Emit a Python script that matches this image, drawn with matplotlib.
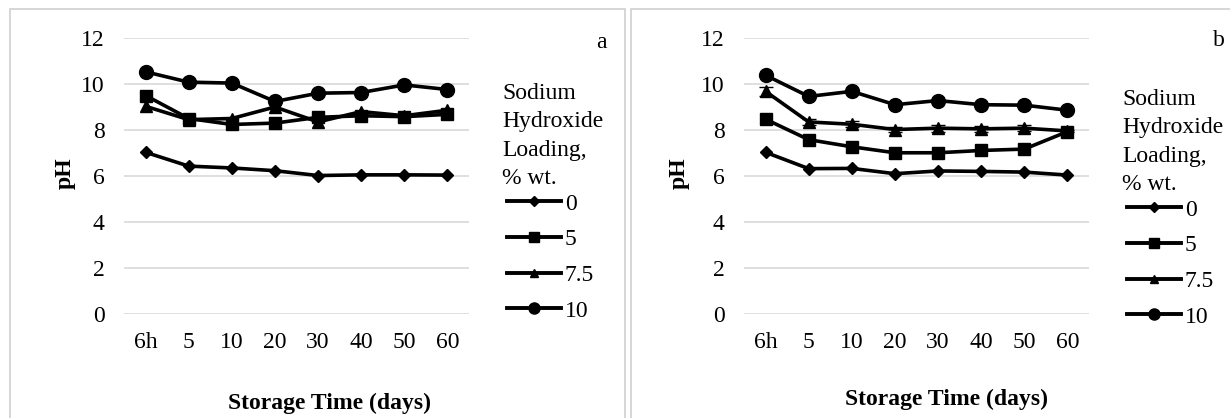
import matplotlib
matplotlib.use("Agg")
import matplotlib.pyplot as plt
from matplotlib.lines import Line2D
from matplotlib.patches import Rectangle

plt.rcParams['font.family'] = ['Liberation Serif', 'DejaVu Serif']

# storage time categories
days = ["6h", "5", "10", "20", "30", "40", "50", "60"]
loadings = ["0", "5", "7.5", "10"]

# panel a - pH per NaOH loading
a_0 = [7.03, 6.43, 6.35, 6.23, 6.02, 6.05, 6.05, 6.04]
a_5 = [9.50, 8.50, 8.24, 8.30, 8.55, 8.62, 8.58, 8.68]
a_75 = [9.03, 8.45, 8.50, 9.00, 8.35, 8.80, 8.62, 8.86]
a_10 = [10.53, 10.08, 10.04, 9.24, 9.60, 9.63, 9.96, 9.76]

# panel b - pH per NaOH loading
b_0 = [7.03, 6.32, 6.33, 6.10, 6.22, 6.20, 6.17, 6.04]
b_5 = [8.47, 7.58, 7.27, 7.01, 7.01, 7.11, 7.17, 7.93]
b_75 = [9.68, 8.35, 8.25, 8.02, 8.08, 8.05, 8.08, 7.96]
b_75_err = [0.2, 0.15, 0.12, 0.12, 0.15, 0.12, 0.12, 0.05]
b_10 = [10.38, 9.46, 9.68, 9.10, 9.28, 9.10, 9.08, 8.86]

markers = ["D", "s", "^", "o"]
msizes = [6, 9, 8, 10]
FS = 17

fig = plt.figure(figsize=(12.3, 4.18), dpi=100)

# light grey frames around each chart
fig.patches.append(Rectangle((10 / 1230, -0.1), 615 / 1230, 1 - 9 / 418 + 0.1,
                             transform=fig.transFigure, fill=False,
                             edgecolor="#d0d0d0", lw=1.2))
fig.patches.append(Rectangle((631 / 1230, -0.1), 0.6, 1 - 9 / 418 + 0.1,
                             transform=fig.transFigure, fill=False,
                             edgecolor="#d0d0d0", lw=1.2))

panels = [
    (124, [a_0, a_5, a_75, a_10], None, "a", 601, 42),
    (744, [b_0, b_5, b_75, b_10], b_75_err, "b", 1219, 40),
]

for left_px, series, err, tag, tag_x, tag_y in panels:
    ax = fig.add_axes([left_px / 1230, 1 - 314 / 418, 345 / 1230, 276 / 418])
    x = list(range(len(days)))
    for i, vals in enumerate(series):
        if err is not None and i == 2:
            ax.errorbar(x, vals, yerr=err, color="black", lw=2.6, marker=markers[i],
                        ms=msizes[i], elinewidth=1, capsize=5, zorder=3)
        else:
            ax.plot(x, vals, color="black", lw=2.6, marker=markers[i],
                    ms=msizes[i], zorder=3)
    ax.set_xlim(-0.5, 7.5)
    ax.set_ylim(0, 12)
    ax.set_yticks([0, 2, 4, 6, 8, 10, 12])
    ax.set_xticks(x)
    ax.set_xticklabels(days)
    ax.grid(axis="y", color="#d9d9d9", lw=1.2)
    ax.set_axisbelow(True)
    for s in ax.spines.values():
        s.set_visible(False)
    ax.tick_params(length=0, labelsize=FS)
    ax.tick_params(axis="y", pad=14)
    ax.tick_params(axis="x", pad=13)

    off = left_px - 124
    fig.text((65 + off - (6 if off else 0)) / 1230, 1 - 173 / 418, "pH", rotation=90,
             fontsize=FS, fontweight="bold", ha="center", va="center")
    fig.text((329 + off - 3 * (1 if off else 0)) / 1230, 1 - (403 - (4 if off else 0)) / 418,
             "Storage Time (days)", fontsize=FS, fontweight="bold",
             ha="center", va="center")
    fig.text(tag_x / 1230, 1 - tag_y / 418, tag, fontsize=FS,
             ha="center", va="center")

    dy = 6 if off else 0
    fig.text((502 + off) / 1230, 1 - (136 + dy) / 418,
             "Sodium\nHydroxide\nLoading,\n% wt.", fontsize=FS,
             ha="left", va="center", linespacing=1.45)
    handles = [Line2D([0], [0], color="black", lw=2.8, marker=markers[i],
                      ms=msizes[i] * 0.8) for i in range(4)]
    fig.legend(handles, loadings, loc="upper left",
               bbox_to_anchor=((507 + off) / 1230, 1 - (193 + dy) / 418),
               frameon=False, fontsize=FS, handlelength=2.3, handletextpad=0.15,
               labelspacing=0.6, borderpad=0, borderaxespad=0)

fig.savefig("out.png", dpi=100)
